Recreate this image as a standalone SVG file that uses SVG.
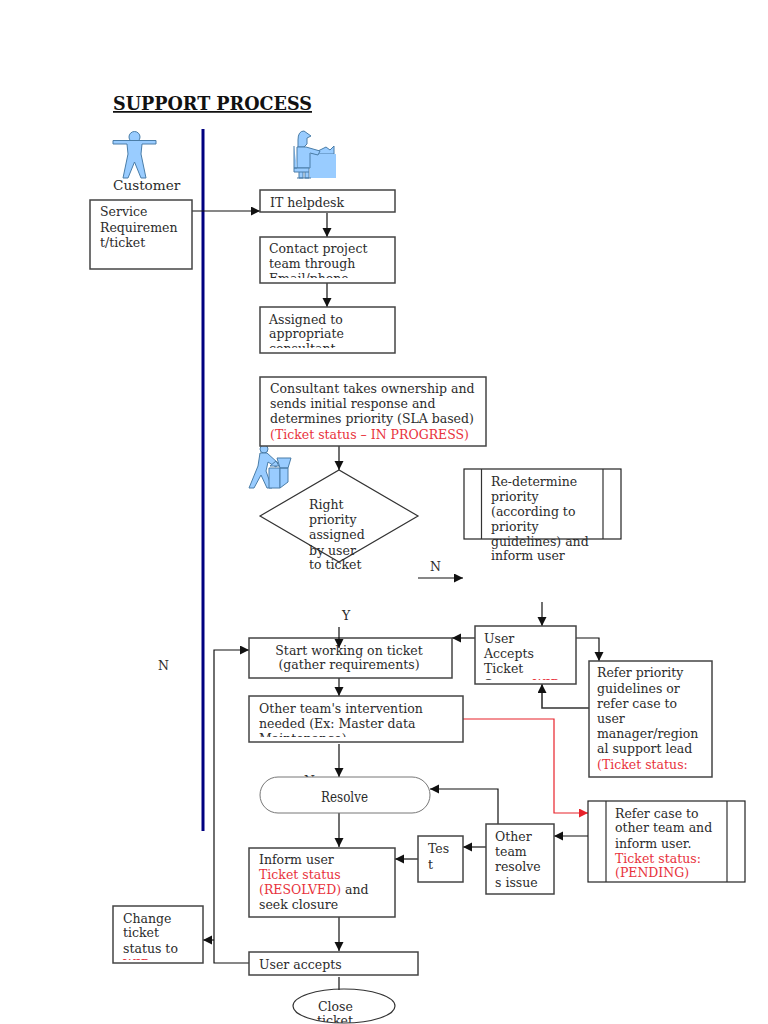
<svg xmlns="http://www.w3.org/2000/svg" width="768" height="1024" viewBox="0 0 768 1024">
<style>
text{font-family:"DejaVu Serif","Liberation Serif",serif;font-size:12.5px;fill:#2b2b2b}
.red{fill:#e8323c}
.box{fill:#fff;stroke:#444;stroke-width:1.5}
.thin{fill:none;stroke:#333;stroke-width:1.2}
.c{fill:none;stroke:#111;stroke-width:1.2}
.r{fill:none;stroke:#e8222a;stroke-width:1.2}
.ic{fill:#99ccff;stroke:#4a7da8;stroke-width:1}
.m{text-anchor:middle}
</style>
<defs>
<marker id="a" markerUnits="userSpaceOnUse" markerWidth="10" markerHeight="10" refX="9" refY="4.500" orient="auto"><path d="M0 0L9 4.500L0 9Z" fill="#111"/></marker>
<marker id="ar" markerUnits="userSpaceOnUse" markerWidth="10" markerHeight="10" refX="9" refY="4.500" orient="auto"><path d="M0 0L9 4.500L0 9Z" fill="#e8222a"/></marker>
<clipPath id="c1"><rect x="260" y="237" width="135" height="41"/></clipPath>
<clipPath id="c2"><rect x="260" y="307" width="135" height="41"/></clipPath>
<clipPath id="c3"><rect x="475" y="626" width="101" height="54"/></clipPath>
<clipPath id="c4"><rect x="249" y="696" width="214" height="41"/></clipPath>
<clipPath id="c5"><rect x="113" y="906" width="90" height="54"/></clipPath>
<clipPath id="c6"><ellipse cx="344" cy="1006" rx="51" ry="17"/></clipPath>
<clipPath id="c7"><rect x="290" y="770" width="40" height="7"/></clipPath>
</defs>
<g id="title"><text x="113" y="110" style="font-size:17.6px;font-weight:bold;fill:#111;text-decoration:underline">SUPPORT PROCESS</text></g>
<rect id="divider" x="201.500" y="129" width="3" height="702" fill="#000080"/>
<g id="customer-icon"><circle class="ic" cx="134.500" cy="137" r="5.500"/><path class="ic" d="M113 140.500H156V144H142L141 154L146 178H141L134.500 162L128 178H123L128 154L127 144H113Z"/></g>
<g id="helpdesk-icon"><path class="ic" d="M311 154L318 151L326 147L330 150L334 146V154Z"/><rect x="310" y="154" width="26" height="24" fill="#99ccff"/><path class="ic" d="M298 140Q298 131 304 131L311 136L307 138V144L304 147H298Z"/><path class="ic" d="M297 147H306L320 151L318 155L310 153V168H297Z"/><path class="ic" d="M294 146V168H297M294 168H309V172H294ZM299 172V178H303V172M305 172V178H309V172M297 178H311"/></g>
<g id="worker-icon"><circle class="ic" cx="264" cy="449" r="4"/><path class="ic" d="M260 453L267 453L278 463L276 467L268 462L266 471L272 488H267L261 475L254 488H249L258 466Z"/><path class="ic" d="M269 468H280V488H269Z"/><path class="ic" d="M280 468H288V482L280 488ZM270 466L276 461L279 466ZM277 458H291L288 468H280Z"/></g>
<g id="connectors">
<path class="c" marker-end="url(#a)" d="M192 211H260"/>
<path class="c" marker-end="url(#a)" d="M327 213V237"/>
<path class="c" marker-end="url(#a)" d="M327 283V307"/>
<path class="c" marker-end="url(#a)" d="M339 446V470"/>
<path class="c" marker-end="url(#a)" d="M418 578H463"/>
<path class="c" marker-end="url(#a)" d="M542 602V626"/>
<path class="c" marker-end="url(#a)" d="M475 638H452"/>
<path class="c" marker-end="url(#a)" d="M576 638H599V661"/>
<path class="c" marker-end="url(#a)" style="stroke-width:1.6;stroke:#333" d="M589 708H542V684"/>
<path class="c" marker-end="url(#a)" d="M339 678V696"/>
<path class="c" marker-end="url(#a)" d="M339 744V777"/>
<path class="r" marker-end="url(#ar)" d="M463 719H554V813H588"/>
<path class="c" marker-end="url(#a)" d="M498 824V789H430"/>
<path class="c" marker-end="url(#a)" d="M339 813V847"/>
<path class="c" marker-end="url(#a)" d="M418 859H395"/>
<path class="c" marker-end="url(#a)" d="M486 847H463"/>
<path class="c" marker-end="url(#a)" d="M588 836H554"/>
<path class="c" marker-end="url(#a)" d="M339 917V951"/>
<path class="c" marker-end="url(#a)" d="M249 963H214V650H249"/>
<path class="c" marker-end="url(#a)" d="M214 940H203"/>
<path class="c" d="M339 977V990"/>
</g>
<g id="service"><rect class="box" x="90" y="200" width="102" height="69"/><text x="100" y="216">Service</text><text x="100" y="232">Requiremen</text><text x="100" y="247">t/ticket</text></g>
<text id="customer-label" x="113" y="190" style="font-size:13.6px">Customer</text>
<g id="helpdesk"><rect class="box" x="260" y="190" width="135" height="22"/><text x="270" y="207">IT helpdesk</text></g>
<g id="contact"><rect class="box" x="260" y="237" width="135" height="46"/><g clip-path="url(#c1)"><text x="269" y="253">Contact project</text><text x="269" y="268">team through</text><text x="269" y="283">Email/phone</text></g></g>
<g id="assigned"><rect class="box" x="260" y="307" width="135" height="46"/><g clip-path="url(#c2)"><text x="269" y="324">Assigned to</text><text x="269" y="338">appropriate</text><text x="269" y="353">consultant</text></g></g>
<g id="consultant"><rect class="box" x="260" y="377" width="226" height="69"/><text x="270" y="393">Consultant takes ownership and</text><text x="270" y="408">sends initial response and</text><text x="270" y="423">determines priority (SLA based)</text><text class="red" x="270" y="439">(Ticket status – IN PROGRESS)</text></g>
<g id="priority"><path class="thin" d="M260 516L339 470L418 516L339 562Z"/><text x="309" y="509">Right</text><text x="309" y="524">priority</text><text x="309" y="539">assigned</text><text x="309" y="555">by user</text><text x="309" y="569">to ticket</text></g>
<g id="redetermine"><rect class="box" x="464" y="469" width="157" height="70" style="stroke:#222;stroke-width:1.200"/><path class="thin" d="M481.500 469V539M603 469V539"/><text x="491" y="486">Re-determine</text><text x="491" y="501">priority</text><text x="491" y="516">(according to</text><text x="491" y="531">priority</text><text x="491" y="546">guidelines) and</text><text x="491" y="560">inform user</text></g>
<text id="n1" x="430" y="571">N</text>
<text id="y1" x="342" y="620">Y</text>
<text id="n2" x="158" y="670">N</text>
<g id="user-accepts-ticket"><rect class="box" x="475" y="626" width="101" height="58"/><g clip-path="url(#c3)"><text x="484" y="643">User</text><text x="484" y="658">Accepts</text><text x="484" y="673">Ticket</text><text x="484" y="688.700">Status: <tspan class="red">WIP</tspan></text></g></g>
<g id="start"><rect class="box" x="249" y="638" width="203" height="40"/><text class="m" x="349" y="655">Start working on ticket</text><text class="m" x="349" y="669">(gather requirements)</text></g>
<path class="c" marker-end="url(#a)" d="M339 627V648"/>
<g id="refer-priority"><rect class="box" x="589" y="661" width="123" height="116"/><text x="597" y="677">Refer priority</text><text x="597" y="693">guidelines or</text><text x="597" y="708">refer case to</text><text x="597" y="723">user</text><text x="597" y="738">manager/region</text><text x="597" y="753">al support lead</text><text class="red" x="597" y="769">(Ticket status:</text></g>
<g id="other-team"><rect class="box" x="249" y="696" width="214" height="46"/><g clip-path="url(#c4)"><text x="259" y="713">Other team's intervention</text><text x="259" y="728">needed (Ex: Master data</text><text x="259" y="743">Maintenance)</text></g></g>
<text id="n3" clip-path="url(#c7)" x="304" y="784.500">N</text>
<g id="resolve"><rect x="260" y="777" width="170" height="36" rx="18" fill="none" stroke="#777" stroke-width="1"/><text class="m" x="344.500" y="802" style="font-size:14.500px" textLength="47" lengthAdjust="spacingAndGlyphs">Resolve</text></g>
<g id="refer-case"><rect class="box" x="588" y="801" width="157" height="81" style="stroke:#222;stroke-width:1.200"/><path class="thin" d="M606 801V882M727 801V882"/><text x="615" y="818">Refer case to</text><text x="615" y="832">other team and</text><text x="615" y="848">inform user.</text><text class="red" x="615" y="863">Ticket status:</text><text class="red" x="615" y="877">(PENDING)</text></g>
<g id="other-resolves"><rect class="box" x="486" y="824" width="68" height="70"/><text x="495" y="841">Other</text><text x="495" y="856">team</text><text x="495" y="871">resolve</text><text x="495" y="887">s issue</text></g>
<g id="test"><rect class="box" x="418" y="836" width="45" height="46"/><text x="428" y="853">Tes</text><text x="428" y="869">t</text></g>
<g id="inform"><rect class="box" x="249" y="848" width="146" height="69"/><text x="259" y="864">Inform user</text><text class="red" x="259" y="879">Ticket status</text><text x="259" y="894"><tspan class="red">(RESOLVED)</tspan> and</text><text x="259" y="909">seek closure</text></g>
<g id="change"><rect class="box" x="113" y="906" width="90" height="57"/><g clip-path="url(#c5)"><text x="123" y="923">Change</text><text x="123" y="937">ticket</text><text x="123" y="953">status to</text><text class="red" x="123" y="968.700">WIP</text></g></g>
<g id="user-accepts"><rect class="box" x="249" y="952" width="169" height="23"/><text x="259" y="969">User accepts</text></g>
<g id="close"><ellipse class="thin" cx="344" cy="1006" rx="51" ry="17"/><g clip-path="url(#c6)"><text x="318" y="1011">Close</text><text x="317" y="1025">ticket</text></g></g>
</svg>
